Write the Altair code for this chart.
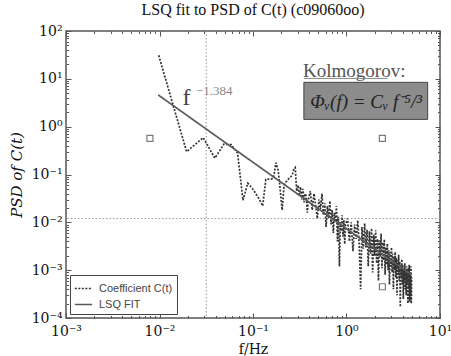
import altair as alt
import pandas as pd

# ---------------- data ----------------
freq_low = [0.0098, 0.0195, 0.0293, 0.0391, 0.0488, 0.0586, 0.0684, 0.0781, 0.0879, 0.0977,
            0.107, 0.117, 0.127, 0.137, 0.146, 0.156, 0.166, 0.176, 0.186, 0.195,
            0.205, 0.215, 0.225, 0.234, 0.244, 0.254, 0.264, 0.273, 0.283, 0.293,
            0.303, 0.313, 0.322, 0.332, 0.342, 0.352, 0.361, 0.371, 0.381, 0.391]
psd_low = [31.0, 0.30, 0.59, 0.22, 0.43, 0.42, 0.28, 0.029, 0.066, 0.052,
           0.040, 0.030, 0.022, 0.079, 0.080, 0.080, 0.085, 0.176, 0.12, 0.050,
           0.018, 0.059, 0.070, 0.075, 0.085, 0.090, 0.10, 0.13, 0.14, 0.045,
           0.060, 0.035, 0.055, 0.030, 0.050, 0.026, 0.040, 0.035, 0.016, 0.030]

freq_mid = [0.410, 0.430, 0.449, 0.469, 0.488, 0.508, 0.527, 0.547, 0.566, 0.586,
            0.605, 0.625, 0.645, 0.664, 0.684, 0.703, 0.723, 0.742, 0.762, 0.781,
            0.801, 0.820, 0.840, 0.859, 0.879, 0.898, 0.918, 0.938, 0.957, 0.977]
psd_mid = [0.045, 0.018, 0.040, 0.022, 0.012, 0.030, 0.019, 0.040, 0.014, 0.025,
           0.008, 0.022, 0.012, 0.028, 0.009, 0.018, 0.006, 0.016, 0.011, 0.022,
           0.004, 0.013, 0.0012, 0.010, 0.0065, 0.014, 0.005, 0.011, 0.0035, 0.009]

freq_high = [1.025, 1.074, 1.123, 1.172, 1.221, 1.270, 1.318, 1.367, 1.416, 1.465,
             1.514, 1.563, 1.611, 1.660, 1.709, 1.758, 1.807, 1.855, 1.904, 1.953,
             2.002, 2.051, 2.100, 2.148, 2.197, 2.246, 2.295, 2.344, 2.393, 2.441,
             2.490, 2.539, 2.588, 2.637, 2.686, 2.734, 2.783, 2.832, 2.881, 2.930,
             2.979, 3.027, 3.076, 3.125, 3.174, 3.223, 3.271, 3.320, 3.369, 3.418,
             3.467, 3.516, 3.564, 3.613, 3.662, 3.711, 3.760, 3.809, 3.857, 3.906,
             3.955, 4.004, 4.053, 4.102, 4.150, 4.199, 4.248, 4.297, 4.346, 4.395,
             4.443, 4.492, 4.541, 4.590, 4.639, 4.688, 4.736, 4.785, 4.834, 4.883,
             4.932, 4.980]
psd_high = [0.012, 0.004, 0.010, 0.0025, 0.009, 0.0045, 0.011, 0.0035, 0.0004, 0.008,
            0.0028, 0.0095, 0.0030, 0.007, 0.0012, 0.0065, 0.0022, 0.0075, 0.0009, 0.0055,
            0.0020, 0.0068, 0.0014, 0.0045, 0.0006, 0.0042, 0.0019, 0.0058, 0.0011, 0.0038,
            0.0016, 0.0044, 0.0008, 0.0030, 0.0013, 0.0036, 0.0010, 0.0026, 0.0005, 0.0024,
            0.0012, 0.0030, 0.0009, 0.0022, 0.0004, 0.0019, 0.0010, 0.0024, 0.0007, 0.0018,
            0.0003, 0.0016, 0.0008, 0.0021, 0.0006, 0.0015, 0.00017, 0.0013, 0.0007, 0.0017,
            0.0005, 0.0013, 0.00025, 0.0011, 0.0006, 0.0014, 0.0004, 0.0010, 0.0003, 0.0012,
            0.0005, 0.0009, 0.0002, 0.0011, 0.0004, 0.0013, 0.00022, 0.0008, 0.0003, 0.0012,
            0.0002, 0.0007]

fit_freq = [0.0097, 4.98]
fit_psd = [4.6, 0.00079]

marker_freq = [0.0079, 2.42, 2.42]
marker_psd = [0.57, 0.57, 0.00045]

vline_freq = [0.0316]
hline_psd = [0.012]

series_names = ["Coefficient C(t)", "LSQ FIT"]

x_major = [1e-3, 1e-2, 1e-1, 1, 10]
y_major = [1e-4, 1e-3, 1e-2, 1e-1, 1, 10, 100]
x_labels = ["10⁻³", "10⁻²", "10⁻¹", "10⁰", "10¹"]
y_labels = ["10⁻⁴", "10⁻³", "10⁻²", "10⁻¹", "10⁰", "10¹", "10²"]

# annotations
box_f = [0.35, 7.38]
box_p = [8.45, 1.42]
kolm_f, kolm_p, kolm_text = [0.343], [14.5], ["Kolmogorov:"]
kolm_ul_f, kolm_ul_p = [0.35, 2.75], [10.2]
formula_f, formula_p, formula_text = [1.62], [3.32], ["Φᵥ(f) = Cᵥ f⁻⁵/³"]
f_f, f_p, f_text = [0.0195], [4.0], ["f"]
exp_f, exp_p, exp_text = [0.0245], [5.6], ["−1.384"]

# ---------------- build tables ----------------
rows = []
for fl, pl in zip(freq_low + freq_mid + freq_high, psd_low + psd_mid + psd_high):
    rows.append({"f": fl, "p": pl, "series": series_names[0]})
for fl, pl in zip(fit_freq, fit_psd):
    rows.append({"f": fl, "p": pl, "series": series_names[1]})
lines_df = pd.DataFrame(rows)
markers_df = pd.DataFrame({"f": marker_freq, "p": marker_psd})
vline_df = pd.DataFrame({"f": vline_freq})
hline_df = pd.DataFrame({"p": hline_psd})
box_df = pd.DataFrame({"f": [box_f[0]], "f2": [box_f[1]], "p": [box_p[0]], "p2": [box_p[1]]})
kolm_df = pd.DataFrame({"f": kolm_f, "p": kolm_p, "t": kolm_text})
ul_df = pd.DataFrame({"f": [kolm_ul_f[0]], "f2": [kolm_ul_f[1]], "p": kolm_ul_p})
formula_df = pd.DataFrame({"f": formula_f, "p": formula_p, "t": formula_text})
fsym_df = pd.DataFrame({"f": f_f, "p": f_p, "t": f_text})
exp_df = pd.DataFrame({"f": exp_f, "p": exp_p, "t": exp_text})
fit_df = pd.DataFrame({"f": fit_freq, "p": fit_psd})

W, H = 374, 287
SERIF = "Liberation Serif, Times New Roman, serif"
AXFONT = "DejaVu Serif"
SANS = "Liberation Sans, Arial, sans-serif"

xs = alt.Scale(type="log", domain=[1e-3, 10])
ys = alt.Scale(type="log", domain=[1e-4, 100])


def label_expr(vals, labs):
    parts = []
    for v, l in zip(vals[:-1], labs[:-1]):
        parts.append(f"datum.value < {v * 3.16} ? '{l}' : ")
    return "".join(parts) + f"'{labs[-1]}'"


x_minor = [m * 10 ** e for e in range(-3, 1) for m in range(1, 10)] + [10]
y_minor = [m * 10 ** e for e in range(-4, 2) for m in range(1, 10)] + [100]
major_test = "abs(log(datum.value)/LN10 - round(log(datum.value)/LN10)) < 0.01"
tick_size = {"condition": {"test": major_test, "value": 5}, "value": 2.5}

legend = alt.Legend(orient="bottom-left", offset=4, title=None, symbolType="stroke",
                    symbolSize=300, symbolStrokeWidth=1.6, labelFont=SANS,
                    labelFontSize=11, labelColor="#444", fillColor="white",
                    strokeColor="#444", padding=4, rowPadding=1, labelOffset=6)

main = alt.Chart(lines_df).mark_line(strokeWidth=1.7).encode(
    x=alt.X("f:Q", scale=xs, axis=alt.Axis(
        orient="bottom", values=x_major, labelExpr=label_expr(x_major, x_labels),
        tickSize=0, domain=False, grid=False, labelFont=AXFONT, labelFontSize=14,
        labelColor="#111", labelPadding=6, labelFlush=False, labelOverlap=False,
        title="f/Hz", titleFont=AXFONT, titleFontSize=14, titleFontWeight="normal",
        titleColor="#111", titleY=35, titleBaseline="alphabetic")),
    y=alt.Y("p:Q", scale=ys, axis=alt.Axis(
        orient="left", values=y_major, labelExpr=label_expr(y_major, y_labels),
        tickSize=0, domain=False, grid=False, labelFont=AXFONT, labelFontSize=14,
        labelColor="#111", labelPadding=4, labelFlush=False, labelOverlap=False,
        title="PSD of C(t)", titleFont=AXFONT, titleFontSize=15, titleFontWeight="normal",
        titleFontStyle="italic", titleColor="#111", titlePadding=7)),
    color=alt.Color("series:N", scale=alt.Scale(domain=series_names, range=["#333333", "#5a5a5a"]),
                    legend=legend),
    strokeDash=alt.StrokeDash("series:N", scale=alt.Scale(domain=series_names,
                                                          range=[[2, 1.5], [1, 0]]),
                              legend=legend),
)

ticks_a = alt.Chart(fit_df).mark_line(opacity=0).encode(
    x=alt.X("f:Q", scale=xs, title=None, axis=alt.Axis(
        orient="top", offset=-H, values=x_minor, labels=False, domain=False, grid=False,
        tickColor="#555", tickSize=tick_size)),
    y=alt.Y("p:Q", scale=ys, title=None, axis=alt.Axis(
        orient="right", offset=-W, values=y_minor, labels=False, domain=False, grid=False,
        tickColor="#555", tickSize=tick_size)),
)
ticks_b = alt.Chart(fit_df).mark_line(opacity=0).encode(
    x=alt.X("f:Q", scale=xs, title=None, axis=alt.Axis(
        orient="bottom", offset=-H, values=x_minor, labels=False, domain=False, grid=False,
        tickColor="#555", tickSize=tick_size)),
    y=alt.Y("p:Q", scale=ys, title=None, axis=alt.Axis(
        orient="left", offset=-W, values=y_minor, labels=False, domain=False, grid=False,
        tickColor="#555", tickSize=tick_size)),
)

vrule = alt.Chart(vline_df).mark_rule(color="#999", strokeDash=[1.5, 2], strokeWidth=1).encode(
    x=alt.X("f:Q", scale=xs, axis=None))
hrule = alt.Chart(hline_df).mark_rule(color="#999", strokeDash=[1.5, 2], strokeWidth=1).encode(
    y=alt.Y("p:Q", scale=ys, axis=None))

markers = alt.Chart(markers_df).mark_point(shape="square", filled=False, size=36,
                                           color="#444", strokeWidth=1.2).encode(
    x=alt.X("f:Q", scale=xs, axis=None), y=alt.Y("p:Q", scale=ys, axis=None))

box = alt.Chart(box_df).mark_rect(fill="#8c8c8c", stroke="#444", strokeWidth=1).encode(
    x=alt.X("f:Q", scale=xs, axis=None), x2="f2:Q",
    y=alt.Y("p:Q", scale=ys, axis=None), y2="p2:Q")

kolm = alt.Chart(kolm_df).mark_text(align="left", baseline="middle", font=SERIF,
                                    fontSize=19, color="#555").encode(
    x=alt.X("f:Q", scale=xs, axis=None), y=alt.Y("p:Q", scale=ys, axis=None), text="t:N")
kolm_ul = alt.Chart(ul_df).mark_rule(color="#888", strokeWidth=1).encode(
    x=alt.X("f:Q", scale=xs, axis=None), x2="f2:Q", y=alt.Y("p:Q", scale=ys, axis=None))
formula = alt.Chart(formula_df).mark_text(align="center", baseline="middle", font=SERIF,
                                          fontSize=19, fontStyle="italic", color="#222").encode(
    x=alt.X("f:Q", scale=xs, axis=None), y=alt.Y("p:Q", scale=ys, axis=None), text="t:N")
fsym = alt.Chart(fsym_df).mark_text(align="center", baseline="middle", font=SERIF,
                                    fontSize=24, color="#444").encode(
    x=alt.X("f:Q", scale=xs, axis=None), y=alt.Y("p:Q", scale=ys, axis=None), text="t:N")
expo = alt.Chart(exp_df).mark_text(align="left", baseline="middle", font=SERIF,
                                   fontSize=13, color="#888").encode(
    x=alt.X("f:Q", scale=xs, axis=None), y=alt.Y("p:Q", scale=ys, axis=None), text="t:N")

chart = alt.layer(
    vrule, hrule, main, ticks_a, ticks_b, markers, kolm, kolm_ul, box, formula, fsym, expo
).resolve_axis(x="independent", y="independent").properties(
    width=W, height=H,
    title=alt.TitleParams("LSQ fit to PSD of C(t) (c09060oo)", font=SERIF, fontSize=16,
                          fontWeight="normal", color="#111", offset=6),
    autosize=alt.AutoSizeParams(type="none"),
    padding={"left": 66, "top": 31, "right": 11, "bottom": 38},
).configure(font=SERIF).configure_view(stroke="#555", strokeWidth=1.5)

chart.save("out.html", embed_options={"renderer": "svg", "actions": False})
